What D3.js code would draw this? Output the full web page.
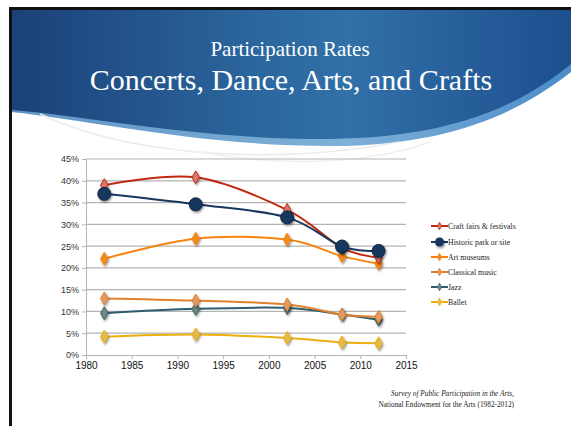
<!DOCTYPE html>
<html><head><meta charset="utf-8">
<script src="https://cdn.jsdelivr.net/npm/d3@7"></script>
<style>html,body{margin:0;padding:0;background:#fff;}svg{display:block;}</style>
</head><body>
<svg id="c" width="571" height="426"></svg>
<script>
const years = [1982, 1992, 2002, 2008, 2012];
const seriesNames = ["Craft fairs & festivals", "Historic park or site", "Art museums", "Classical music", "Jazz", "Ballet"];
const craftFairs = [39.0, 40.8, 33.3, 24.6, 22.4];
const historicParks = [37.0, 34.6, 31.6, 24.9, 23.9];
const artMuseums = [22.1, 26.7, 26.5, 22.7, 21.0];
const classicalMusic = [13.0, 12.5, 11.6, 9.3, 8.8];
const jazz = [9.6, 10.6, 10.8, 9.3, 8.1];
const ballet = [4.2, 4.7, 3.9, 2.9, 2.7];
const yTicks = [0, 5, 10, 15, 20, 25, 30, 35, 40, 45];
const xTicks = [1980, 1985, 1990, 1995, 2000, 2005, 2010, 2015];

const seriesValues = [craftFairs, historicParks, artMuseums, classicalMusic, jazz, ballet];
const lineColors = ["#c0290f", "#17375e", "#f7820c", "#e2802c", "#2f5d70", "#e9b00e"];
const markerFill = ["#d77a6c", "#17375e", "#f28a1e", "#e39a62", "#6f8a82", "#e7b84e"];
const markerStroke = ["#c0290f", "#0e2540", "#f7820c", "#e2802c", "#3c5d64", "#e9b00e"];

const svg = d3.select("#c");
const defs = svg.append("defs");
const hg = defs.append("linearGradient").attr("id", "hg").attr("x1", 0).attr("x2", 1).attr("y1", 0).attr("y2", 0);
hg.append("stop").attr("offset", "0%").attr("stop-color", "#1b4178");
hg.append("stop").attr("offset", "45%").attr("stop-color", "#2c679f");
hg.append("stop").attr("offset", "60%").attr("stop-color", "#3270a8");
hg.append("stop").attr("offset", "100%").attr("stop-color", "#1c4f8e");
const bg = defs.append("linearGradient").attr("id", "bg").attr("x1", 0).attr("x2", 1);
bg.append("stop").attr("offset", "0%").attr("stop-color", "#5f95c4");
bg.append("stop").attr("offset", "60%").attr("stop-color", "#7fb0d8");
bg.append("stop").attr("offset", "100%").attr("stop-color", "#4b8cc8");
const sh = defs.append("filter").attr("id", "sh").attr("x", "-60%").attr("y", "-60%").attr("width", "220%").attr("height", "220%");
sh.append("feDropShadow").attr("dx", 1).attr("dy", 1.5).attr("stdDeviation", 1.3).attr("flood-color", "#000").attr("flood-opacity", 0.45);

svg.append("rect").attr("x", 0).attr("y", 0).attr("width", 571).attr("height", 426).attr("fill", "#fff");
svg.append("path").attr("d", "M11,9 L571,9 L571,72 C520,112 450,146 330,146 C200,146 90,120 11,112 Z").attr("fill", "url(#bg)");
svg.append("path").attr("d", "M11,9 L571,9 L571,64 C520,106 450,138 330,139 C200,140 90,116 11,110 Z").attr("fill", "url(#hg)");
svg.append("path").attr("d", "M40,114 C120,152 260,168 400,142").attr("fill", "none").attr("stroke", "#ececec").attr("stroke-width", 1.5);
svg.append("path").attr("d", "M200,152 C300,170 380,160 430,142").attr("fill", "none").attr("stroke", "#f0f0f0").attr("stroke-width", 1.5);
svg.append("rect").attr("x", 9).attr("y", 7).attr("width", 562).attr("height", 3).attr("fill", "#111");
svg.append("rect").attr("x", 9).attr("y", 7).attr("width", 3).attr("height", 419).attr("fill", "#111");

svg.append("text").attr("x", 290).attr("y", 56).attr("text-anchor", "middle").attr("fill", "#fff")
  .attr("font-family", "Liberation Serif, Times New Roman, serif").attr("font-size", 21).text("Participation Rates");
svg.append("text").attr("x", 291).attr("y", 90).attr("text-anchor", "middle").attr("fill", "#fff")
  .attr("font-family", "Liberation Serif, Times New Roman, serif").attr("font-size", 30).text("Concerts, Dance, Arts, and Crafts");

const x = d3.scaleLinear().domain([1980, 2015]).range([86, 406]);
const y = d3.scaleLinear().domain([0, 45]).range([355, 159]);

svg.append("g").selectAll("line").data(yTicks.filter(d => d > 0)).join("line")
  .attr("x1", x(1980)).attr("x2", x(2015)).attr("y1", d => y(d)).attr("y2", d => y(d))
  .attr("stroke", "#b4b4b4").attr("stroke-width", 1.2);

const yAxis = svg.append("g").attr("transform", `translate(${x(1980)},0)`)
  .call(d3.axisLeft(y).tickValues(yTicks).tickFormat(d => d + "%").tickSize(4).tickPadding(3));
yAxis.select(".domain").attr("stroke", "#b4b4b4");
yAxis.selectAll(".tick line").attr("stroke", "#b4b4b4");
yAxis.selectAll("text").attr("font-family", "Liberation Sans, Arial, sans-serif").attr("font-size", 9).attr("fill", "#333");

const xAxis = svg.append("g").attr("transform", `translate(0,${y(0)})`)
  .call(d3.axisBottom(x).tickValues(xTicks).tickFormat(d3.format("d")).tickSize(4).tickPadding(3).tickSizeOuter(0));
xAxis.select(".domain").attr("stroke", "#b4b4b4");
xAxis.selectAll(".tick line").attr("stroke", "#b4b4b4");
xAxis.selectAll("text").attr("font-family", "Liberation Sans, Arial, sans-serif").attr("font-size", 10).attr("fill", "#111");

const line = d3.line().x((d, i) => x(years[i])).y(d => y(d)).curve(d3.curveCatmullRom.alpha(0));
const diamond = d3.symbol().type(d3.symbolDiamond).size(48);

const order = [5, 4, 3, 2, 0, 1];
order.forEach(si => {
  const g = svg.append("g");
  g.append("path").attr("d", line(seriesValues[si])).attr("fill", "none")
    .attr("stroke", lineColors[si]).attr("stroke-width", 2);
  const pts = g.selectAll(".m").data(seriesValues[si]).join("g")
    .attr("transform", (d, i) => `translate(${x(years[i])},${y(d)})`).attr("filter", "url(#sh)");
  if (si === 1) {
    pts.append("circle").attr("r", 6.5).attr("fill", markerFill[si]).attr("stroke", markerStroke[si]).attr("stroke-width", 1);
  } else {
    pts.append("path").attr("d", diamond).attr("fill", markerFill[si]).attr("stroke", markerStroke[si]).attr("stroke-width", 1);
  }
});

const legY = [226, 242, 257, 272, 287, 302];
const leg = svg.append("g");
seriesNames.forEach((name, si) => {
  const gy = legY[si];
  leg.append("line").attr("x1", 431).attr("x2", 448).attr("y1", gy).attr("y2", gy).attr("stroke", lineColors[si]).attr("stroke-width", 2);
  if (si === 1) {
    leg.append("circle").attr("cx", 439.5).attr("cy", gy).attr("r", 4.5).attr("fill", markerFill[si]).attr("filter", "url(#sh)");
  } else {
    leg.append("path").attr("d", d3.symbol().type(d3.symbolDiamond).size(16)).attr("transform", `translate(439.5,${gy})`)
      .attr("fill", markerFill[si]).attr("stroke", markerStroke[si]).attr("stroke-width", 0.8);
  }
  leg.append("text").attr("x", 448).attr("y", gy + 2.7).attr("font-family", "Liberation Serif, Times New Roman, serif")
    .attr("font-size", 7.8).attr("fill", "#222").text(name);
});

svg.append("text").attr("x", 514).attr("y", 396).attr("text-anchor", "end").attr("font-style", "italic")
  .attr("font-family", "Liberation Serif, Times New Roman, serif").attr("font-size", 7.3).attr("fill", "#222")
  .text("Survey of Public Participation in the Arts,");
svg.append("text").attr("x", 514).attr("y", 407).attr("text-anchor", "end")
  .attr("font-family", "Liberation Serif, Times New Roman, serif").attr("font-size", 7.3).attr("fill", "#222")
  .text("National Endowment for the Arts (1982-2012)");
</script>
</body></html>
